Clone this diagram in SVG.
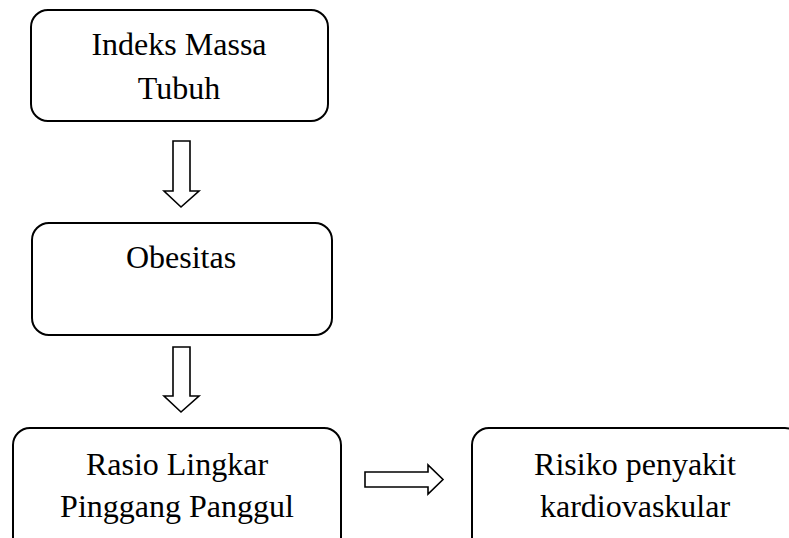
<svg xmlns="http://www.w3.org/2000/svg" width="789" height="538" viewBox="0 0 789 538">
<style>
.box{fill:#fff;stroke:#000;stroke-width:2}
.arr{fill:#fff;stroke:#000;stroke-width:1.6;stroke-linejoin:miter}
text{font-family:"Liberation Serif","Times New Roman",serif;font-size:32px;fill:#000;text-anchor:middle}
</style>
<rect width="789" height="538" fill="#fff"/>
<g id="node-imt">
<rect class="box" x="31" y="10" width="297" height="111" rx="17"/>
<text x="179" y="55">Indeks Massa</text>
<text x="179" y="99">Tubuh</text>
</g>
<g id="node-obesitas">
<rect class="box" x="32" y="223" width="300" height="112" rx="17"/>
<text x="181" y="268">Obesitas</text>
</g>
<g id="node-rlpp">
<rect class="box" x="13" y="428" width="328" height="130" rx="17"/>
<text x="177" y="475">Rasio Lingkar</text>
<text x="177" y="517">Pinggang Panggul</text>
</g>
<g id="node-risiko">
<rect class="box" x="472" y="428" width="330" height="130" rx="17"/>
<text x="635" y="475">Risiko penyakit</text>
<text x="635" y="517">kardiovaskular</text>
</g>
<g id="connectors">
<polygon class="arr" points="173,141 190,141 190,191 199,191 181,207 164,191 173,191"/>
<polygon class="arr" points="173,347 190,347 190,396 199,396 181,412 164,396 173,396"/>
<polygon class="arr" points="365,472 428,472 428,465 443,479.5 428,494 428,487 365,487"/>
</g>
</svg>
